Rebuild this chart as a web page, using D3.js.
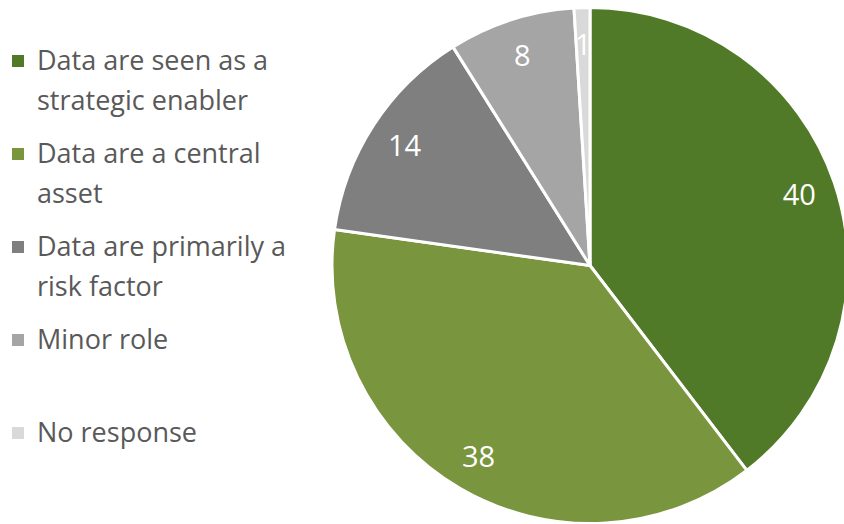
<!DOCTYPE html>
<html>
<head>
<meta charset="utf-8">
<script src="https://cdn.jsdelivr.net/npm/d3@7"></script>
<style>
  html, body { margin: 0; padding: 0; background: #ffffff; }
  svg { display: block; }
  text { font-family: "Open Sans", "Noto Sans", sans-serif; }
</style>
</head>
<body>
<svg id="chart" width="844" height="524"></svg>
<script>
// Role of data in the organisation (share of respondents)
const categories = [
  "Data are seen as a strategic enabler",
  "Data are a central asset",
  "Data are primarily a risk factor",
  "Minor role",
  "No response"
];
const values = [40, 38, 14, 8, 1];
const colors = ["#507a27", "#79953e", "#7f7f7f", "#a5a5a5", "#d9d9d9"];

const width = 844, height = 524;
const cx = 590, cy = 265.5, radius = 258, labelRadius = 221;

const svg = d3.select("#chart");

const data = categories.map((c, i) => ({ category: c, value: values[i], color: colors[i] }));

const pie = d3.pie().sort(null).value(d => d.value);
const arc = d3.arc().innerRadius(0).outerRadius(radius);
const labelArc = d3.arc().innerRadius(labelRadius).outerRadius(labelRadius);

const g = svg.append("g").attr("transform", `translate(${cx},${cy})`);
const arcs = pie(data);

g.selectAll("path.slice")
  .data(arcs)
  .join("path")
  .attr("class", "slice")
  .attr("d", arc)
  .attr("fill", d => d.data.color)
  .attr("stroke", "#ffffff")
  .attr("stroke-width", 3)
  .attr("stroke-linejoin", "round");

g.selectAll("text.value")
  .data(arcs)
  .join("text")
  .attr("class", "value")
  .attr("transform", d => `translate(${labelArc.centroid(d)})`)
  .attr("text-anchor", "middle")
  .attr("dy", "0.36em")
  .attr("fill", "#ffffff")
  .attr("font-size", 29)
  .text(d => d.data.value);

// Legend: wrapped labels with square swatches
const legendX = 12, textX = 37, firstBaseline = 70, itemStep = 93, lineStep = 40;
const maxLineWidth = 258, legendFont = 27;

const legend = svg.append("g");
const items = legend.selectAll("g.item")
  .data(data)
  .join("g")
  .attr("class", "item")
  .attr("transform", (d, i) => `translate(0,${firstBaseline + i * itemStep})`);

items.append("rect")
  .attr("x", legendX)
  .attr("y", -15)
  .attr("width", 12)
  .attr("height", 12)
  .attr("fill", d => d.color);

items.each(function(d) {
  const t = d3.select(this).append("text")
    .attr("x", textX)
    .attr("y", 0)
    .attr("fill", "#595959")
    .attr("font-size", legendFont);
  const words = d.category.split(" ");
  let line = [];
  let lineNo = 0;
  let tspan = t.append("tspan").attr("x", textX).attr("y", 0);
  words.forEach(w => {
    line.push(w);
    tspan.text(line.join(" "));
    if (tspan.node().getComputedTextLength() > maxLineWidth && line.length > 1) {
      line.pop();
      tspan.text(line.join(" "));
      line = [w];
      lineNo += 1;
      tspan = t.append("tspan").attr("x", textX).attr("y", lineNo * lineStep).text(w);
    }
  });
});
</script>
</body>
</html>
